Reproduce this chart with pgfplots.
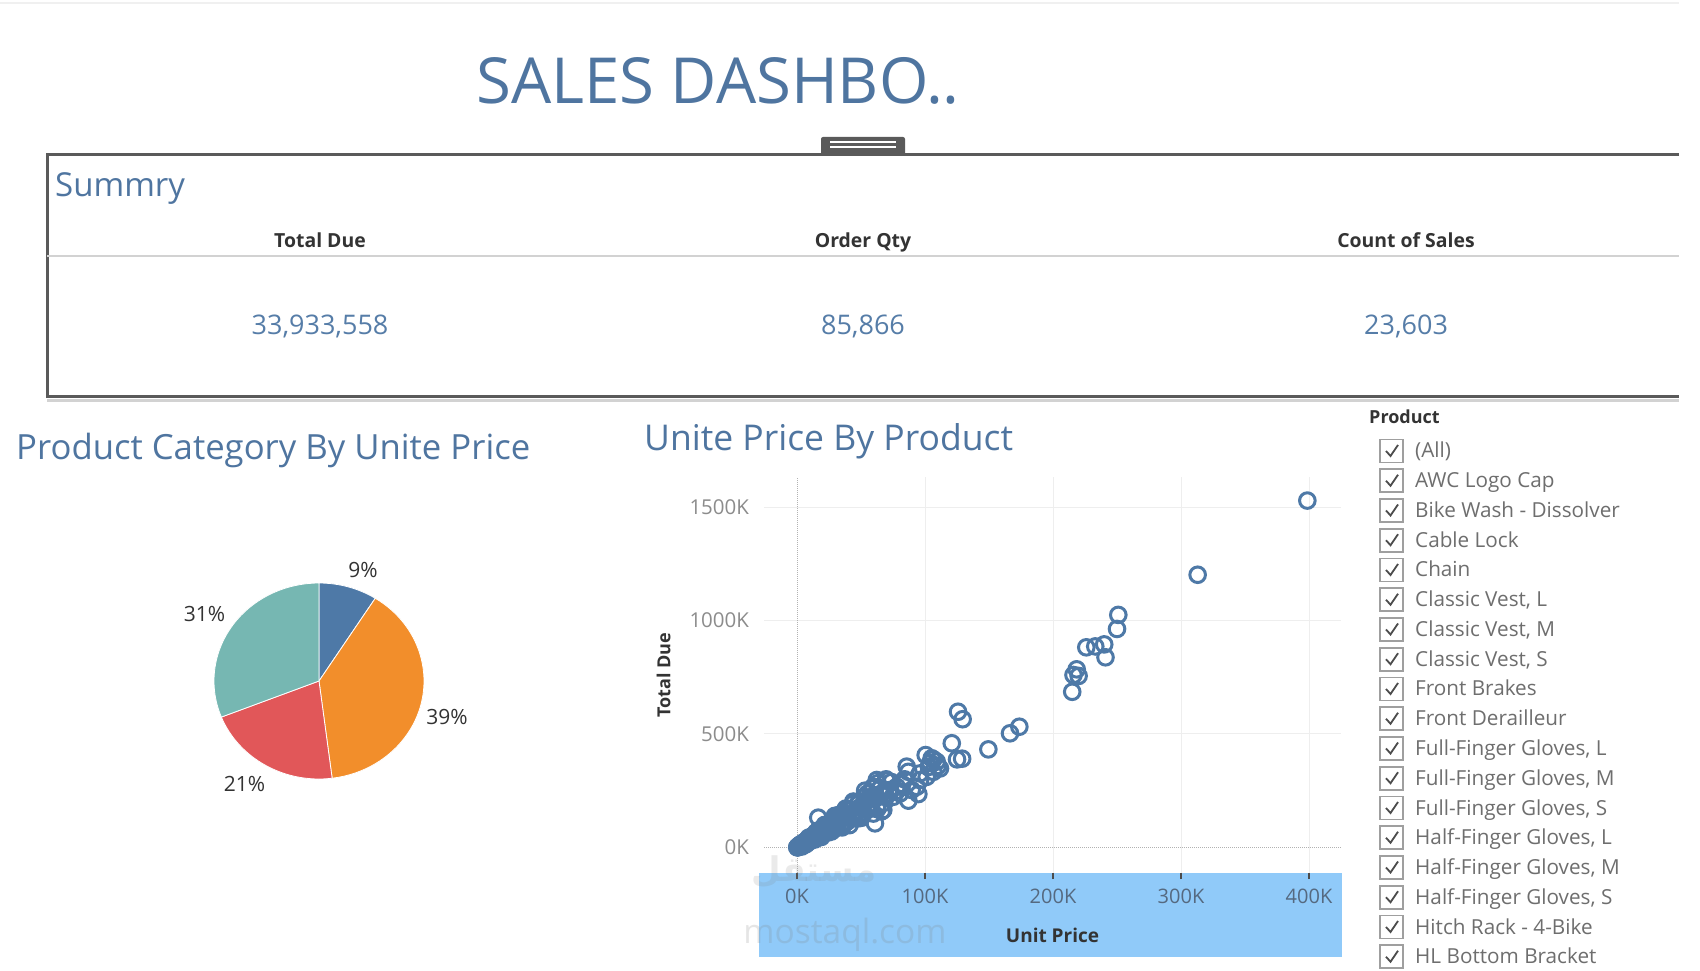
\documentclass[border=0pt]{standalone}
\usepackage{pgfplots}
\pgfplotsset{compat=1.18}
\usepackage{pgfplotstable}
\usepackage{fontspec}
\setmainfont{Open Sans}
\newfontfamily\arabicfont[Script=Arabic]{DejaVu Sans}
\TeXXeTstate=1

\definecolor{titleblue}{RGB}{79,117,160}
\definecolor{valblue}{RGB}{86,125,168}
\definecolor{markblue}{RGB}{78,121,167}
\definecolor{pieblue}{RGB}{78,121,167}
\definecolor{pieorange}{RGB}{242,142,43}
\definecolor{piered}{RGB}{225,87,89}
\definecolor{pieteal}{RGB}{118,183,178}
\definecolor{bandblue}{RGB}{144,202,249}
\definecolor{boxgray}{RGB}{90,90,90}
\definecolor{textdark}{RGB}{51,51,51}
\definecolor{ticktext}{RGB}{140,140,140}
\definecolor{tickslate}{RGB}{85,105,128}
\definecolor{legtext}{RGB}{110,110,110}

\newcommand\fs[1]{\fontsize{#1}{#1}\selectfont}

% category shares (percent of unit price)
\pgfplotstableread{
category share
Accessories 9
Bikes 39
Clothing 21
Components 31
}\piedata
\pgfplotstablegetelem{0}{share}\of\piedata\let\shareA\pgfplotsretval
\pgfplotstablegetelem{1}{share}\of\piedata\let\shareB\pgfplotsretval
\pgfplotstablegetelem{2}{share}\of\piedata\let\shareC\pgfplotsretval
\pgfplotstablegetelem{3}{share}\of\piedata\let\shareD\pgfplotsretval
\pgfmathsetmacro\aA{90}
\pgfmathsetmacro\aB{\aA-3.6*\shareA}
\pgfmathsetmacro\aC{\aB-3.6*\shareB}
\pgfmathsetmacro\aD{\aC-3.6*\shareC}
\pgfmathsetmacro\aE{\aD-3.6*\shareD}

% unit price (K) vs total due (K) per product
\pgfplotstableread{
x y
0.3 1
0.8 2
1.2 5
1.7 6
2.1 8
2.6 8
3.0 13
3.5 12
4.1 11
4.6 18
5.2 19
5.8 17
6.3 26
6.9 23
7.4 29
8.0 24
8.6 38
9.1 32
9.7 26
10.3 41
10.9 39
11.6 34
12.2 51
12.9 43
13.5 53
14.2 43
14.9 66
15.6 55
16.3 44
17.0 68
17.8 64
18.5 54
19.3 81
20.1 66
20.9 82
21.7 65
22.5 99
23.4 82
24.3 66
25.2 101
26.1 94
27.0 78
28.0 118
29.0 96
30.0 117
31.0 93
32.1 141
33.2 116
34.3 93
35.4 142
36.6 132
37.8 110
39.0 164
40.2 133
41.5 162
42.8 128
44.1 194
45.5 159
46.9 127
48.3 193
49.8 179
51.3 149
52.8 222
54.4 180
56.0 218
57.6 173
59.3 261
61.0 214
62.7 169
64.5 258
66.3 239
68.1 197
70.0 294
71.9 237
73.8 288
0.5 2
1.4 6
2.3 6
3.3 12
4.4 19
5.5 17
6.6 25
7.8 23
9.0 36
10.2 35
11.5 37
12.8 52
14.1 39
15.5 57
16.9 73
18.3 57
19.8 75
21.3 62
22.9 92
24.5 83
26.2 84
27.9 114
29.7 83
31.5 117
33.4 144
35.3 109
37.3 142
39.3 114
41.4 166
43.5 148
45.7 146
47.9 196
50.2 141
52.5 194
55.0 237
57.5 178
60.0 228
62.6 182
65.2 261
68.0 231
1.0 2
2.8 13
4.8 16
6.9 18
9.2 43
11.6 44
14.0 35
16.5 74
19.0 46
21.6 99
24.2 82
26.9 70
29.6 139
32.4 123
35.2 88
38.1 171
41.0 98
44.0 202
47.0 160
50.1 130
53.2 250
56.4 214
59.6 149
62.9 283
66.2 159
69.6 300
0.2 0
0.7 1
1.8 9
3.8 4
4.0 15
5.0 10
6.0 20
7.0 14
8.0 30
16.6 131
60.9 106
67.4 165
62.3 297
59.6 267
72.7 253
77.9 267
75.2 223
80.5 238
82.0 280
84.0 300
78.0 250
87.0 206
89.6 253
93.5 267
94.8 235
96.1 297
101.3 311
106.5 333
111.7 348
109.1 378
105.2 393
100.5 407
87.0 333
85.7 356
96.0 326
103.0 355
104.0 372
110.0 359
106.5 388
125.0 388
129.0 391
120.9 459
149.5 432
166.4 503
173.7 532
125.8 598
129.4 565
215.0 686
220.0 756
216.0 760
218.5 785
241.0 838
226.0 882
233.0 886
240.0 895
250.0 963
251.0 1025
313.0 1202
398.7 1529
}\scatterdata

\begin{document}
\begin{tikzpicture}[x=1pt,y=1pt]
\path[use as bounding box] (0,0) rectangle (1700,970);
\fill[white] (0,0) rectangle (1700,970);
\draw[gray!12, line width=2] (0,967) -- (1679,967);
\coordinate (pieSW) at (214,191);
\coordinate (scSW) at (764,97);

% dashboard title
\node[anchor=base, text=titleblue, font={\fs{63.5}}, inner sep=0] at (718,866) {SALES DASHBO..};

% summary panel
\draw[gray!35, line width=3] (47,569) -- (1679,569);
\draw[boxgray, line width=3] (1679,815) -- (47,815) -- (47,573) -- (1679,573);
\draw[gray!35, line width=1.2] (47,714) -- (1679,714);
\fill[boxgray, rounded corners=2] (821,815) rectangle (905,833);
\draw[white, line width=1.5] (830,828) -- (896,828);
\draw[white, line width=1.5] (830,823) -- (896,823);
\node[anchor=base west, text=titleblue, font={\fs{33}}, inner sep=0] at (55,773) {Summry};
\foreach \cx/\head/\val in {320/Total Due/{33,933,558}, 863/Order Qty/{85,866}, 1406/Count of Sales/{23,603}} {
  \node[anchor=base, text=textdark, font={\fs{19.4}\bfseries}, inner sep=0] at (\cx,722) {\head};
  \node[anchor=base, text=valblue, font={\fs{27}}, inner sep=0] at (\cx,635) {\val};
}

% section titles
\node[anchor=base west, text=titleblue, font={\fs{34.7}}, inner sep=0] at (16,510) {Product Category By Unite Price};
\node[anchor=base west, text=titleblue, font={\fs{35.5}}, inner sep=0] at (644,519) {Unite Price By Product};

% pie chart
\begin{axis}[at={(pieSW)}, anchor=south west, scale only axis,
  width=210pt, height=196pt, xmin=-1, xmax=1, ymin=-1, ymax=1,
  hide axis, clip=false]
  \fill[pieblue, draw=white, line width=0.8pt] (axis cs:0,0) -- (axis cs:{cos(\aA)},{sin(\aA)}) arc[start angle=\aA, end angle=\aB, x radius=105pt, y radius=98pt] -- cycle;
  \fill[pieorange, draw=white, line width=0.8pt] (axis cs:0,0) -- (axis cs:{cos(\aB)},{sin(\aB)}) arc[start angle=\aB, end angle=\aC, x radius=105pt, y radius=98pt] -- cycle;
  \fill[piered, draw=white, line width=0.8pt] (axis cs:0,0) -- (axis cs:{cos(\aC)},{sin(\aC)}) arc[start angle=\aC, end angle=\aD, x radius=105pt, y radius=98pt] -- cycle;
  \fill[pieteal, draw=white, line width=0.8pt] (axis cs:0,0) -- (axis cs:{cos(\aD)},{sin(\aD)}) arc[start angle=\aD, end angle=\aE, x radius=105pt, y radius=98pt] -- cycle;
  \node[text=textdark, font={\fs{21}}] at (axis cs:0.42,1.13) {\shareA\%};
  \node[text=textdark, font={\fs{21}}] at (axis cs:1.22,-0.37) {\shareB\%};
  \node[text=textdark, font={\fs{21}}] at (axis cs:-0.71,-1.05) {\shareC\%};
  \node[text=textdark, font={\fs{21}}] at (axis cs:-1.09,0.68) {\shareD\%};
\end{axis}

% highlighted x-axis band
\fill[bandblue] (759,13) rectangle (1342,97);

% scatter plot
\begin{axis}[at={(scSW)}, anchor=south west, scale only axis,
  width=577pt, height=396pt,
  xmin=-25.8, xmax=425, ymin=-113, ymax=1633,
  axis line style={draw=none},
  xtick pos=lower, ytick pos=left,
  xtick={100,200,300,400}, xticklabels={100K,200K,300K,400K},
  ytick={500,1000,1500}, yticklabels={500K,1000K,1500K},
  extra x ticks={0}, extra x tick labels={0K},
  extra y ticks={0}, extra y tick labels={0K},
  grid=major, major grid style={draw=gray!13, line width=1pt},
  extra tick style={grid=major, major grid style={draw=gray!60, densely dotted, line width=1pt}},
  tick align=outside, major tick length=6pt,
  x tick style={draw=black!70, line width=1.8pt},
  y tick style={draw=none},
  xticklabel style={font={\fs{20}}, text=tickslate, yshift=-6.5pt},
  yticklabel style={font={\fs{20.5}}, text=ticktext, xshift=-5.5pt},
  xlabel={Unit Price}, ylabel={Total Due},
  xlabel style={at={(axis description cs:0.5,-0.157)}, anchor=center, font={\fs{19}\bfseries}, text=textdark},
  ylabel style={at={(axis description cs:-0.174,0.5)}, anchor=center, font={\fs{18}\bfseries}, text=textdark},
  clip=false]
  \addplot[only marks, mark=o, mark size=7.8pt, draw=markblue,
    mark options={line width=3pt}] table[x=x, y=y] {\scatterdata};
\end{axis}

% watermark
\node[text=gray, opacity=0.2, font={\fs{33.5}}] at (845,35) {mostaql.com};
\node[text=gray, opacity=0.16, font={\arabicfont\fs{34}\bfseries}, inner sep=0] at (814,98) {\beginR مستقل\endR};

% product filter list
\node[anchor=base west, text=textdark, font={\fs{18}\bfseries}, inner sep=0] at (1369,546) {Product};
\foreach \name [count=\i from 0] in {{(All)}, {AWC Logo Cap}, {Bike Wash - Dissolver}, {Cable Lock}, {Chain}, {Classic Vest, L}, {Classic Vest, M}, {Classic Vest, S}, {Front Brakes}, {Front Derailleur}, {Full-Finger Gloves, L}, {Full-Finger Gloves, M}, {Full-Finger Gloves, S}, {Half-Finger Gloves, L}, {Half-Finger Gloves, M}, {Half-Finger Gloves, S}, {Hitch Rack - 4-Bike}, {HL Bottom Bracket}} {
  \pgfmathsetmacro\yc{970-451-29.75*\i}
  \draw[gray!75, line width=1.6] (1380,\yc-11.5) rectangle (1403,\yc+11.5);
  \draw[black!70, line width=1.8] (1386,\yc) -- (1390.5,\yc-5) -- (1398,\yc+6);
  \node[anchor=base west, text=legtext, font={\fs{20.7}}, inner sep=0] at (1415,\yc-7) {\name};
}
\end{tikzpicture}
\end{document}
